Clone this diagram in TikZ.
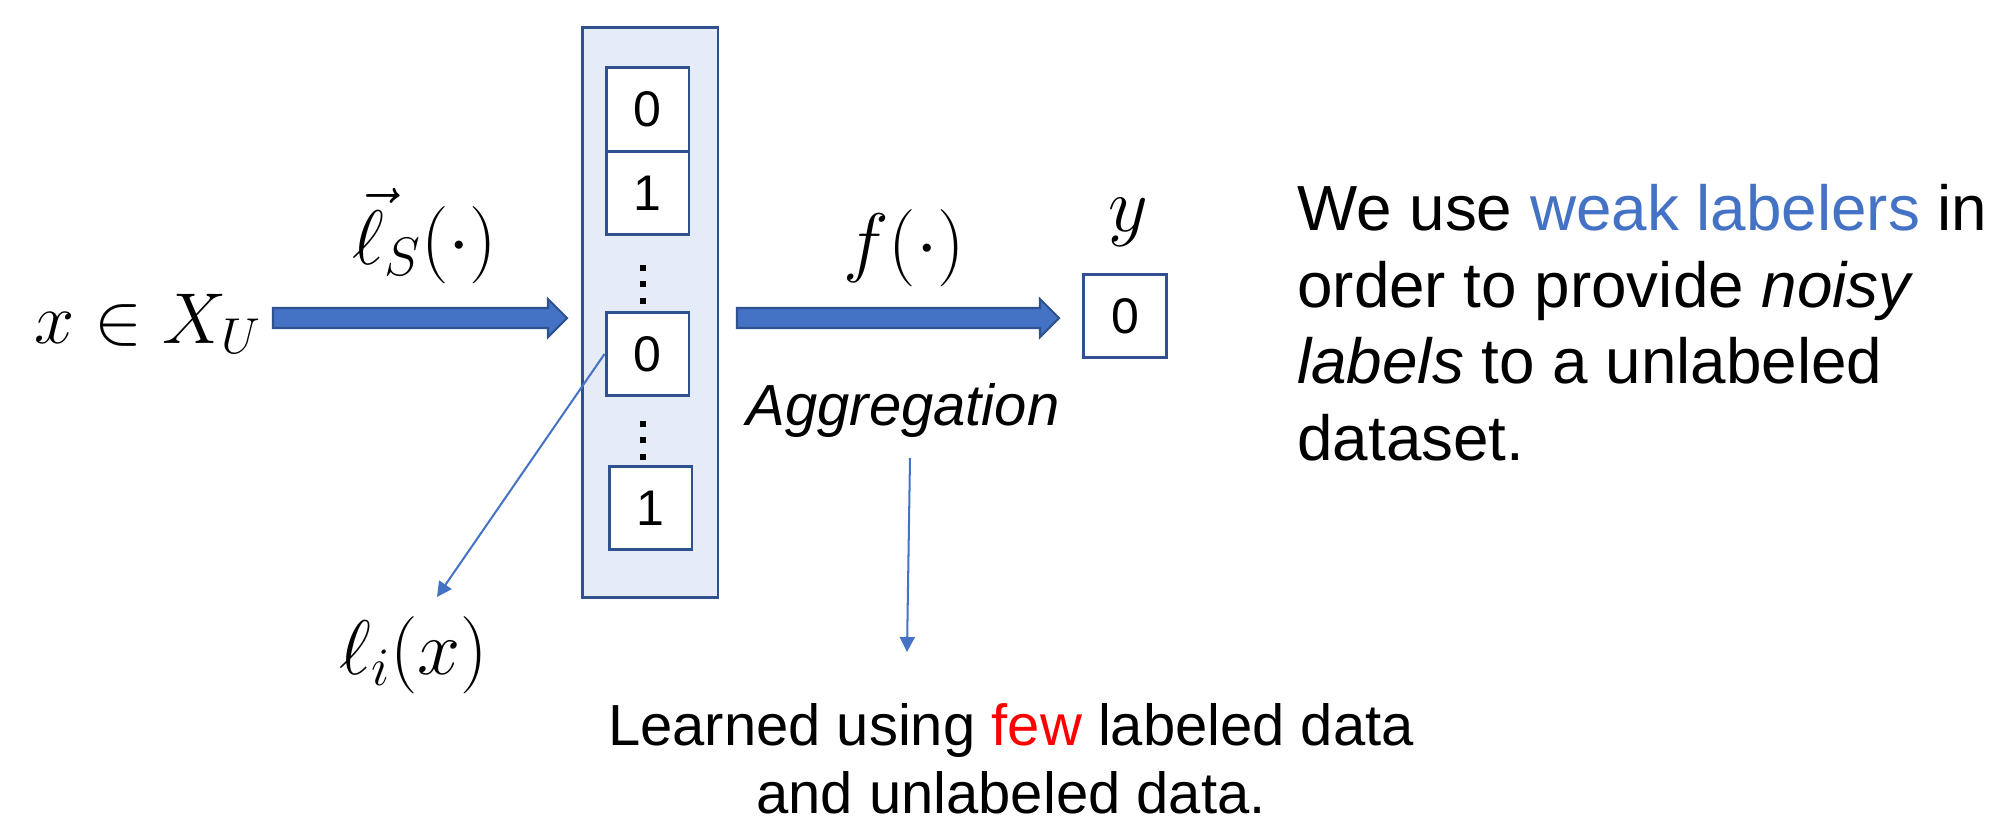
\documentclass[tikz,border=0pt]{standalone}
\usepackage{fix-cm}
\usepackage{fontspec}
\newfontfamily\arial{Liberation Sans}
\usetikzlibrary{arrows.meta,calc}
\definecolor{arrowblue}{HTML}{4472C4}
\definecolor{edgeblue}{HTML}{2F528F}
\definecolor{panelfill}{HTML}{E6ECF7}
\definecolor{hotred}{HTML}{FF0000}

% horizontal block arrow from #1 to the tip #2
\newcommand\blockarrow[2]{%
  \path[fill=arrowblue, draw=edgeblue, line width=1.2pt, line join=miter]
    ($(#1)+(0,-10)$) -- ($(#2)+(-19,-10)$) -- ($(#2)+(-19,-19)$) -- (#2)
    -- ($(#2)+(-19,19)$) -- ($(#2)+(-19,10)$) -- ($(#1)+(0,10)$) -- cycle;}

\begin{document}
\begin{tikzpicture}[x=0.02cm, y=-0.02cm,
  panelbox/.style={draw=edgeblue, line width=1.7pt, fill=panelfill,
    minimum width=2.72cm, minimum height=11.42cm, inner sep=0pt},
  cell/.style={draw=edgeblue, line width=1.7pt, fill=white,
    minimum width=1.66cm, minimum height=1.67cm, inner sep=0pt,
    font=\arial\fontsize{28.5}{33}\selectfont},
  mathlabel/.style={anchor=base, inner sep=0pt, font=\fontsize{44}{52}\selectfont},
  bodytext/.style={inner sep=0pt, font=\arial\fontsize{33}{40}\selectfont},
  sidetext/.style={anchor=base west, inner sep=0pt, font=\arial\fontsize{36.3}{43.6}\selectfont},
  thinarrow/.style={draw=arrowblue, line width=1.15pt,
    -{Triangle[length=8.5pt, width=8.5pt]}},
  dotmark/.style={fill=black}]
\useasboundingbox (0,0) rectangle (1992,822);

% labeler outputs
\node[panelbox] (panel) at (650,312.5) {};
\node[cell] (b1) at (647.5,109.5) {0};
\node[cell] (b2) at (647.5,193) {1};
\node[cell] (b3) at (647.5,354) {0};
\node[cell] (b4) at (650.5,508) {1};
\foreach \yy in {268,284,301,424,440,457}
  \fill[dotmark] (643,\yy) +(-2.8,-2.8) rectangle +(2.8,2.8);

% aggregated label
\node[cell] (yb) at (1125,316) {0};
\node[mathlabel] (ylab) at (1128,231) {$y$};

% input and block arrows
\node[mathlabel, font=\fontsize{41}{49}\selectfont] (xin) at (148,343) {$x \in X_U$};
\coordinate (a1s) at (273,318);
\coordinate (a1e) at (567,318);
\coordinate (a2s) at (737,318);
\coordinate (a2e) at (1059,318);
\blockarrow{a1s}{a1e}
\blockarrow{a2s}{a2e}
\node[mathlabel] (ls) at (425,264) {$\vec{\ell}_S(\cdot)$};
\node[mathlabel] (fl) at (904,267) {$f(\cdot)$};
\node[bodytext, anchor=base, font=\arial\itshape\fontsize{33}{40}\selectfont] (agg) at (903,425) {Aggregation};

% single labeler output
\coordinate (lt) at (437,597);
\draw[thinarrow] (b3.west) -- (lt);
\node[mathlabel] (li) at (414,674) {$\ell_i(x)$};

% note on the aggregation model
\coordinate (gt) at (910,458);
\coordinate (gh) at (907,652);
\draw[thinarrow] (gt) -- (gh);
\node[bodytext, anchor=base] (n1) at (1011,745) {Learned using \textcolor{hotred}{few} labeled data};
\node[bodytext, anchor=base] (n2) at (1011,813) {and unlabeled data.};

% explanation
\node[sidetext] (r1) at (1297,230) {We use \textcolor{arrowblue}{weak labelers} in};
\node[sidetext] (r2) at (1297,307) {order to provide \textit{noisy}};
\node[sidetext] (r3) at (1297,383) {\textit{labels} to a unlabeled};
\node[sidetext] (r4) at (1297,460) {dataset.};
\end{tikzpicture}
\end{document}
